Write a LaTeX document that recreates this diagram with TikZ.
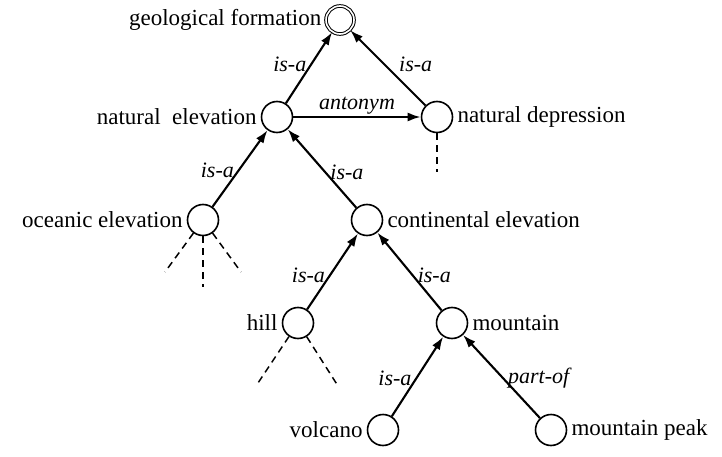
\documentclass[tikz,border=0pt]{standalone}
\usepackage{fontspec}
\setmainfont{Liberation Serif}
\usetikzlibrary{arrows.meta}

\begin{document}
\begin{tikzpicture}[x=1pt, y=-1pt,
        concept/.style={circle, draw, line width=1.6pt, minimum size=31pt, inner sep=0pt},
        root/.style={circle, draw, double, double distance=1.6pt, line width=1pt, minimum size=28pt, inner sep=0pt},
        link/.style={-{Latex[length=13pt, width=9pt]}, line width=2.1pt},
        open/.style={line width=1.5pt, dash pattern=on 7pt off 5pt},
        rel/.style={font=\fontsize{22}{26}\selectfont\itshape, inner sep=4pt},
        every label/.style={font=\fontsize{23}{27}\selectfont, inner sep=4pt}
    ]
    \useasboundingbox (0,0) rectangle (722,457);

    % concepts
    \node[root] (geo) at (340, 20) [label=left:{geological formation}] {};
    \node[concept] (elev) at (277, 117) [label=left:{natural\ \ elevation}] {};
    \node[concept] (depr) at (437, 117) [label=right:{natural depression}] {};
    \node[concept] (ocean) at (203, 220) [label=left:{oceanic elevation}] {};
    \node[concept] (cont) at (367, 220) [label=right:{continental elevation}] {};
    \node[concept] (hill) at (298, 323) [label=left:{hill}] {};
    \node[concept] (mount) at (452, 323) [label=right:{mountain}] {};
    \node[concept] (volc) at (383, 430) [label=left:{volcano}] {};
    \node[concept] (peak) at (551, 430) [label=right:{mountain peak}] {};

    % relations
    \draw[link] (elev) -- node[pos=0.55, left, rel, inner sep=4pt] {is-a} (geo);
    \draw[link] (depr) -- node[pos=0.55, right, rel, inner sep=14pt] {is-a} (geo);
    \draw[link] (elev) -- node[above, rel, inner sep=2pt] {antonym} (depr);
    \draw[link] (ocean) -- node[pos=0.48, left, rel] {is-a} (elev);
    \draw[link] (cont) -- node[pos=0.45, right, rel] {is-a} (elev);
    \draw[link] (hill) -- node[pos=0.45, left, rel] {is-a} (cont);
    \draw[link] (mount) -- node[pos=0.45, right, rel] {is-a} (cont);
    \draw[link] (volc) -- node[pos=0.48, left, rel] {is-a} (mount);
    \draw[link] (peak) -- node[pos=0.48, right, rel] {part-of} (mount);

    % open ends
    \coordinate (d1) at (437, 172);
    \coordinate (o1) at (165, 272);
    \coordinate (o2) at (203, 287);
    \coordinate (o3) at (241, 272);
    \coordinate (h1) at (256, 386);
    \coordinate (h2) at (338, 386);
    \draw[open] (depr) -- (d1);
    \draw[open] (ocean) -- (o1);
    \draw[open] (ocean) -- (o2);
    \draw[open] (ocean) -- (o3);
    \draw[open] (hill) -- (h1);
    \draw[open] (hill) -- (h2);
\end{tikzpicture}
\end{document}
